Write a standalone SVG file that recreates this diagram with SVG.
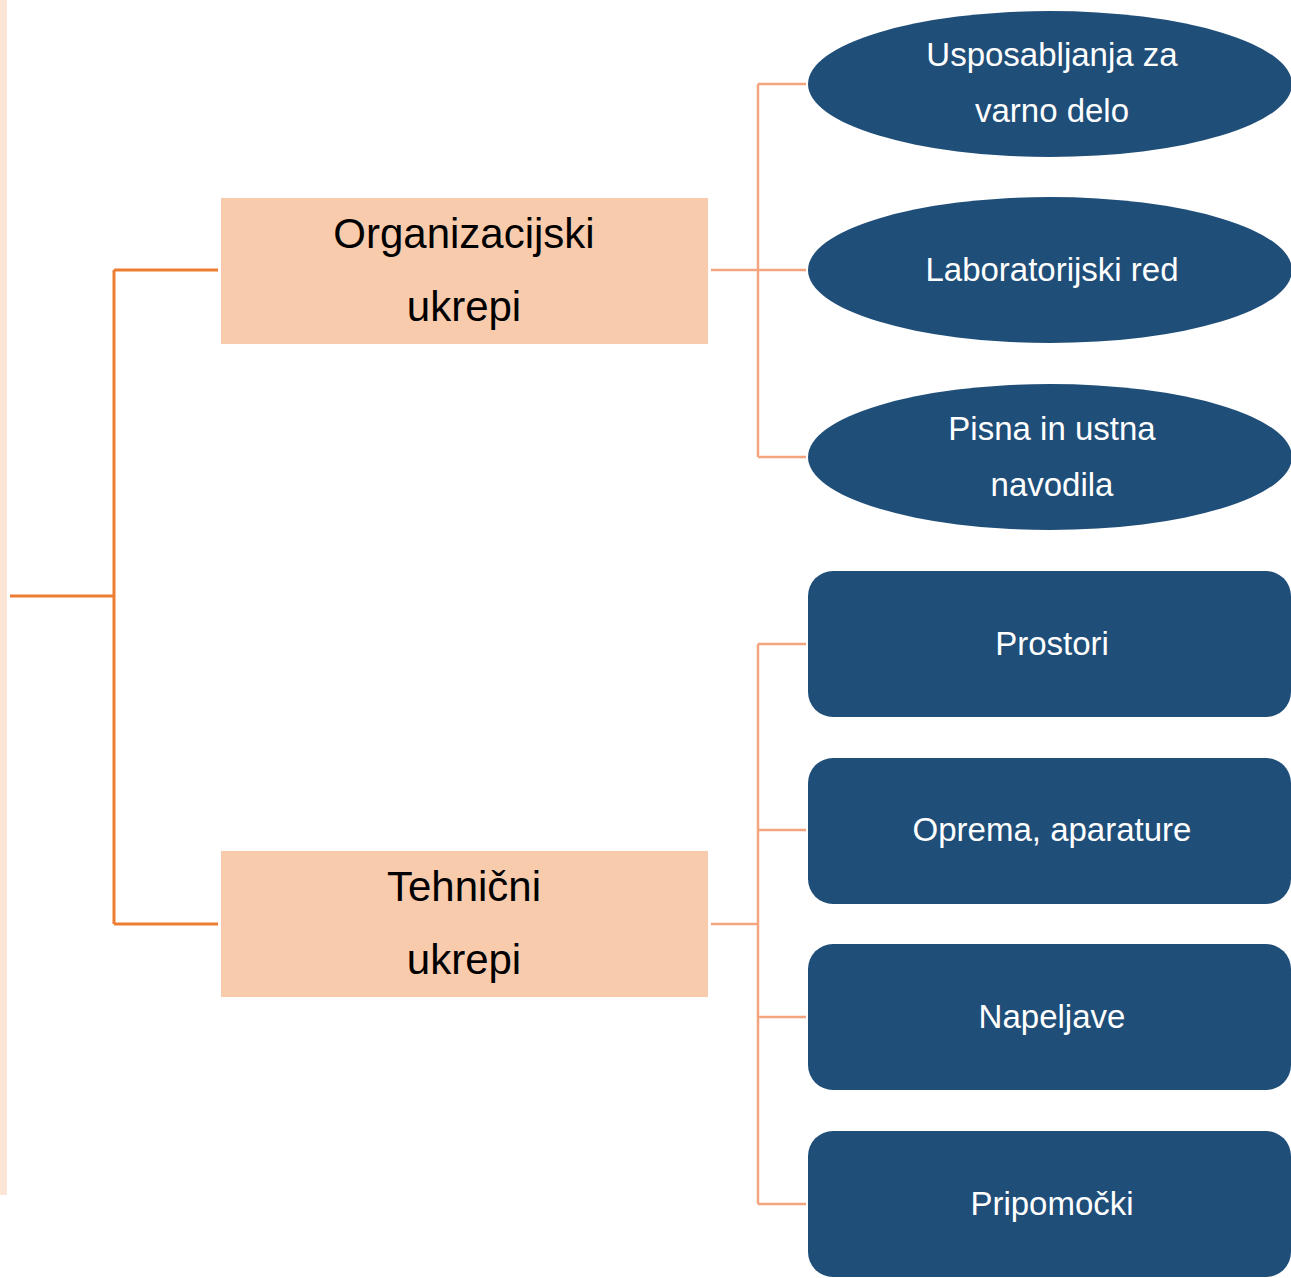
<svg xmlns="http://www.w3.org/2000/svg" width="1291" height="1278" viewBox="0 0 1291 1278">
<style>
.main{fill:none;stroke:#ED7D31;stroke-width:3}
.sub{fill:none;stroke:#F4A47E;stroke-width:2.5}
.box{fill:#F8CBAD}
.leaf{fill:#1F4E79}
.bt{font-family:"Liberation Sans",Arial,sans-serif;font-size:42px;fill:#000;text-anchor:middle}
.lt{font-family:"Liberation Sans",Arial,sans-serif;font-size:33px;fill:#fff;text-anchor:middle}
</style>
<rect x="0" y="0" width="7" height="1195" fill="#FCE4D6"/>
<g id="connectors">
<path class="main" d="M10 596 H114 M114 270 V924 M114 270 H218 M114 924 H218"/>
<path class="sub" d="M711 270 H758 M758 84 V457 M758 84 H806 M758 270 H806 M758 457 H806"/>
<path class="sub" d="M711 924 H758 M758 644 V1204 M758 644 H806 M758 830 H806 M758 1017 H806 M758 1204 H806"/>
</g>
<g id="org"><rect class="box" x="221" y="198" width="487" height="146"/><text class="bt" x="464" y="248">Organizacijski</text><text class="bt" x="464" y="321">ukrepi</text></g>
<g id="teh"><rect class="box" x="221" y="851" width="487" height="146"/><text class="bt" x="464" y="901">Tehnični</text><text class="bt" x="464" y="974">ukrepi</text></g>
<g id="usp"><ellipse class="leaf" cx="1050" cy="84" rx="242" ry="73"/><text class="lt" x="1052" y="66">Usposabljanja za</text><text class="lt" x="1052" y="122">varno delo</text></g>
<g id="lab"><ellipse class="leaf" cx="1050" cy="270" rx="242" ry="73"/><text class="lt" x="1052" y="281">Laboratorijski red</text></g>
<g id="pis"><ellipse class="leaf" cx="1050" cy="457" rx="242" ry="73"/><text class="lt" x="1052" y="440">Pisna in ustna</text><text class="lt" x="1052" y="496">navodila</text></g>
<g id="pro"><rect class="leaf" x="808" y="571" width="483" height="146" rx="25"/><text class="lt" x="1052" y="655">Prostori</text></g>
<g id="opr"><rect class="leaf" x="808" y="758" width="483" height="146" rx="25"/><text class="lt" x="1052" y="841">Oprema, aparature</text></g>
<g id="nap"><rect class="leaf" x="808" y="944" width="483" height="146" rx="25"/><text class="lt" x="1052" y="1028">Napeljave</text></g>
<g id="pri"><rect class="leaf" x="808" y="1131" width="483" height="146" rx="25"/><text class="lt" x="1052" y="1215">Pripomočki</text></g>
</svg>
